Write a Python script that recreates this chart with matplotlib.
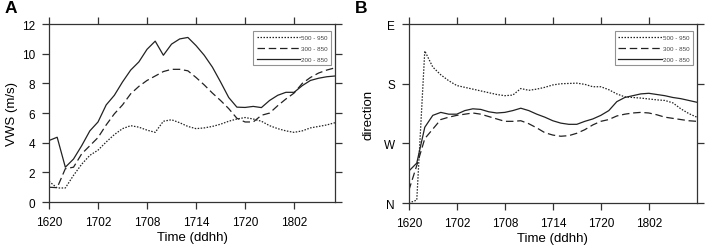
import matplotlib
matplotlib.use("Agg")
import matplotlib.pyplot as plt
import numpy as np

plt.rcParams["font.family"] = ["Liberation Sans", "DejaVu Sans"]

# time in hours since 1620 (ddhh)
hours_a = np.arange(0, 36)
hours_b = np.arange(0, 37)
tick_hours = [0, 6, 12, 18, 24, 30]
tick_labels = ["1620", "1702", "1708", "1714", "1720", "1802"]

# panel A: vertical wind shear (m/s)
vws_500_950 = [1.4, 0.95, 0.95, 1.8, 2.55, 3.15, 3.5, 4.05, 4.55, 4.95, 5.15, 5.05,
               4.85, 4.7, 5.45, 5.55, 5.35, 5.1, 4.95, 5.0, 5.1, 5.25, 5.45, 5.6,
               5.7, 5.6, 5.45, 5.15, 4.95, 4.8, 4.7, 4.8, 5.0, 5.1, 5.2, 5.35]
vws_300_850 = [1.0, 0.97, 2.25, 2.35, 3.25, 3.8, 4.35, 5.2, 5.95, 6.55, 7.3, 7.8,
               8.2, 8.5, 8.8, 8.95, 8.95, 8.85, 8.4, 7.9, 7.35, 6.85, 6.3, 5.65,
               5.4, 5.4, 5.85, 6.0, 6.5, 6.95, 7.35, 8.0, 8.4, 8.7, 8.9, 9.05]
vws_200_850 = [4.15, 4.37, 2.35, 2.9, 3.8, 4.8, 5.4, 6.55, 7.2, 8.1, 8.9, 9.45,
               10.3, 10.85, 9.9, 10.65, 11.0, 11.1, 10.55, 9.9, 9.1, 8.1, 7.05, 6.4,
               6.38, 6.45, 6.37, 6.85, 7.2, 7.4, 7.4, 7.85, 8.2, 8.35, 8.45, 8.5]

# panel B: shear direction (0=N, 1=W, 2=S, 3=E)
dir_500_950 = [0.0, 0.05, 2.55, 2.28, 2.15, 2.05, 1.97, 1.94, 1.91, 1.88, 1.85, 1.82,
               1.80, 1.81, 1.92, 1.89, 1.91, 1.94, 1.98, 2.0, 2.005, 2.01, 1.99, 1.95,
               1.95, 1.90, 1.83, 1.78, 1.77, 1.76, 1.745, 1.73, 1.72, 1.68, 1.58, 1.50, 1.44]
dir_300_850 = [0.21, 0.63, 1.08, 1.24, 1.40, 1.44, 1.47, 1.49, 1.51, 1.49, 1.45, 1.41,
               1.37, 1.37, 1.38, 1.33, 1.26, 1.18, 1.14, 1.12, 1.13, 1.17, 1.23, 1.31,
               1.37, 1.40, 1.46, 1.49, 1.51, 1.52, 1.51, 1.48, 1.44, 1.42, 1.40, 1.38, 1.37]
dir_200_850 = [0.535, 0.67, 1.27, 1.47, 1.52, 1.49, 1.49, 1.55, 1.58, 1.57, 1.53, 1.51,
               1.52, 1.55, 1.59, 1.55, 1.49, 1.44, 1.38, 1.34, 1.32, 1.32, 1.37, 1.41,
               1.47, 1.55, 1.70, 1.77, 1.80, 1.83, 1.84, 1.82, 1.80, 1.77, 1.75, 1.72, 1.69]
dir_ticks = [0, 1, 2, 3]
dir_labels = ["N", "W", "S", "E"]

layers = ["500 - 950", "300 - 850", "200 - 850"]
styles = [(0, (1.2, 1.2)), (0, (6, 3)), "-"]
line_color = "#222222"


def style_axes(ax):
    for s in ax.spines.values():
        s.set_color("#333333")
        s.set_linewidth(0.9)
    ax.tick_params(direction="out", length=5, width=0.9, color="#333333",
                   top=True, right=True, labelsize=8.5, pad=5)
    ax.set_xticks(tick_hours)
    ax.set_xticklabels(tick_labels)
    ax.set_xlabel("Time (ddhh)", fontsize=9.5, labelpad=2)


def add_legend(ax):
    leg = ax.legend(loc="upper right", bbox_to_anchor=(0.985, 0.96), fontsize=4.5,
                    handlelength=7, handletextpad=0.1, labelspacing=0.9,
                    borderpad=0.5, borderaxespad=0, frameon=True, fancybox=False)
    leg.get_frame().set_edgecolor("#777777")
    leg.get_frame().set_linewidth(0.8)
    for t in leg.get_texts():
        t.set_color("#444444")


fig = plt.figure(figsize=(7.06, 2.51), dpi=100)
ax1 = fig.add_axes([0.0694, 0.191, 0.405, 0.709])
ax2 = fig.add_axes([0.579, 0.187, 0.408, 0.713])

for vals, lab, ls in zip([vws_500_950, vws_300_850, vws_200_850], layers, styles):
    ax1.plot(hours_a, vals, color=line_color, linestyle=ls, linewidth=0.9, label=lab)
ax1.set_xlim(0, 35)
ax1.set_ylim(0, 12)
ax1.set_yticks(np.arange(0, 13, 2))
ax1.set_ylabel("VWS (m/s)", fontsize=9.5, labelpad=3)
style_axes(ax1)
add_legend(ax1)

for vals, lab, ls in zip([dir_500_950, dir_300_850, dir_200_850], layers, styles):
    ax2.plot(hours_b, vals, color=line_color, linestyle=ls, linewidth=0.9, label=lab)
ax2.set_xlim(0, 36)
ax2.set_ylim(0, 3)
ax2.set_yticks(dir_ticks)
ax2.set_yticklabels(dir_labels)
ax2.set_ylabel("direction", fontsize=9.5, labelpad=7)
style_axes(ax2)
add_legend(ax2)

fig.text(0.006, 0.995, "A", fontsize=12.5, fontweight="bold", va="top", ha="left")
fig.text(0.503, 0.995, "B", fontsize=12.5, fontweight="bold", va="top", ha="left")

fig.savefig("out.png", dpi=100)
